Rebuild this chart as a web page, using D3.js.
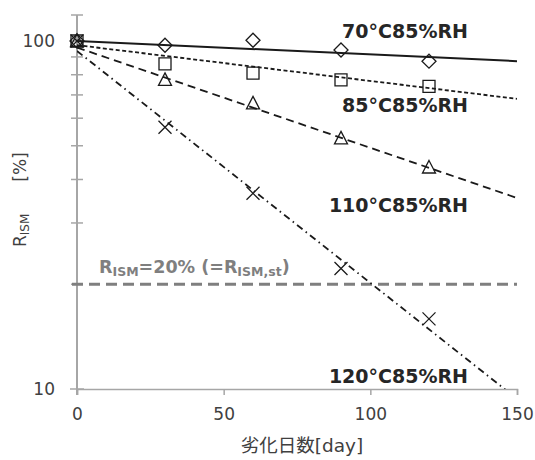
<!DOCTYPE html>
<html><head><meta charset="utf-8">
<script src="https://cdn.jsdelivr.net/npm/d3@7"></script>
<style>
html,body{margin:0;padding:0;background:#fff;}
text{font-family:"DejaVu Sans","Noto Sans CJK JP",sans-serif;}
</style></head>
<body>
<svg id="chart" width="535" height="460"></svg>
<script>
// ---- data ----
const days = [0, 30, 60, 90, 120];
const seriesNames = ["70°C85%RH", "85°C85%RH", "110°C85%RH", "120°C85%RH"];
const r70  = [100, 97.2, 100.5, 94.2, 87.5];
const r85  = [100, 85.9, 80.9, 77.3, 74.1];
const r110 = [100, 77.3, 66.2, 52.5, 43.3];
const r120 = [100, 56.5, 36.5, 22.2, 15.9];
// fitted lines: value at day 0 and at day 150
const fitDays = [0, 150];
const fit70  = [100, 87.5];
const fit85  = [97.3, 68.2];
const fit110 = [95.8, 35.4];
const fit120 = [93.6, 9.37];
const standardValue = 20;
const xTicks = [0, 50, 100, 150];
const yTicks = [10, 100];
const yMinorTicks = [20, 30, 40, 50, 60, 70, 80, 90];

const svg = d3.select("#chart");
const x = d3.scaleLinear().domain([0, 150]).range([77, 517]);
const y = d3.scaleLog().domain([10, 100]).range([389, 41]);

const axisColor = "#a6a6a6";
const textColor = "#404040";

svg.append("clipPath").attr("id","plotclip").append("rect")
  .attr("x", x(0)).attr("y", 10).attr("width", x(150)-x(0)).attr("height", y(10)-10);

// ---- axes ----
const gx = svg.append("g").attr("transform", `translate(0,${y(10)})`)
  .call(d3.axisBottom(x).tickValues(xTicks).tickSize(6).tickPadding(16).tickFormat(d3.format("d")));
gx.select(".domain").attr("stroke", axisColor).attr("stroke-width", 1.5);
gx.selectAll(".tick line").attr("stroke", axisColor).attr("stroke-width", 1.5);
gx.selectAll(".tick text").attr("fill", textColor).style("font-size", "17px").attr("dy", "0.5em");

const gy = svg.append("g").attr("transform", `translate(${x(0)},0)`);
gy.append("line").attr("x1",0).attr("x2",0).attr("y1", y(10)+6).attr("y2", y(100)-26)
  .attr("stroke", axisColor).attr("stroke-width", 2);
gy.append("line").attr("x1",-6).attr("x2",6).attr("y1", y(100)-26).attr("y2", y(100)-26)
  .attr("stroke", axisColor).attr("stroke-width", 1.5);
gy.selectAll(".minor").data(yMinorTicks).enter().append("line")
  .attr("x1",-6).attr("x2",6).attr("y1", d=>y(d)).attr("y2", d=>y(d))
  .attr("stroke", axisColor).attr("stroke-width", 1.5);
gy.selectAll(".major").data(yTicks).enter().append("line")
  .attr("x1",-7).attr("x2",7).attr("y1", d=>y(d)).attr("y2", d=>y(d))
  .attr("stroke", axisColor).attr("stroke-width", 1.5);
gy.selectAll(".ylab").data(yTicks).enter().append("text")
  .attr("x", -22).attr("y", d=>y(d)).attr("dy","0.35em").attr("text-anchor","end")
  .attr("fill", textColor).style("font-size","17px").text(d=>d);

// axis titles
const yt = svg.append("text").attr("transform","translate(26,247) rotate(-90)")
  .attr("fill", textColor).style("font-size","17px");
yt.append("tspan").text("R");
yt.append("tspan").attr("dy", 3).style("font-size","12px").text("ISM");
yt.append("tspan").attr("dy", -3).attr("dx", 32).text("[%]");

svg.append("text").attr("x", 302).attr("y", 452).attr("text-anchor","middle")
  .attr("fill", textColor).style("font-size","18.5px").text("劣化日数[day]");

// ---- standard line ----
svg.append("line").attr("x1", x(0)-5).attr("x2", x(150)).attr("y1", y(standardValue)).attr("y2", y(standardValue))
  .attr("stroke", "#7f7f7f").attr("stroke-width", 3).attr("stroke-dasharray", "11,6");
const st = svg.append("text").attr("x", 99).attr("y", 273).attr("fill","#7f7f7f")
  .style("font-size","17.5px").style("font-weight","bold");
st.append("tspan").text("R");
st.append("tspan").attr("dy",3).style("font-size","12.5px").text("ISM");
st.append("tspan").attr("dy",-3).text("=20% (=R");
st.append("tspan").attr("dy",3).style("font-size","12.5px").text("ISM,st");
st.append("tspan").attr("dy",-3).text(")");

// ---- fitted lines ----
const fits = [
  {vals: fit70, dash: null, w: 2},
  {vals: fit85, dash: "4,2.5", w: 1.8},
  {vals: fit110, dash: "8,5", w: 1.8},
  {vals: fit120, dash: "7,4,1.5,4", w: 1.8}
];
const line = d3.line().x(d=>x(d[0])).y(d=>y(d[1]));
fits.forEach(f=>{
  svg.append("path").attr("clip-path","url(#plotclip)")
    .attr("d", line(fitDays.map((d,i)=>[d, f.vals[i]])))
    .attr("fill","none").attr("stroke","#1a1a1a").attr("stroke-width", f.w)
    .attr("stroke-dasharray", f.dash);
});

// ---- markers ----
function drawMarkers(vals, type){
  const g = svg.append("g");
  vals.forEach((v,i)=>{
    const cx = x(days[i]), cy = y(v);
    let p;
    if(type==="diamond") p = `M${cx},${cy-7}L${cx+7},${cy}L${cx},${cy+7}L${cx-7},${cy}Z`;
    if(type==="square") p = `M${cx-6},${cy-6}h12v12h-12Z`;
    if(type==="triangle") p = `M${cx},${cy-7}L${cx+6.5},${cy+5.5}L${cx-6.5},${cy+5.5}Z`;
    if(type==="cross") p = `M${cx-6.5},${cy-6.5}L${cx+6.5},${cy+6.5}M${cx+6.5},${cy-6.5}L${cx-6.5},${cy+6.5}`;
    g.append("path").attr("d", p).attr("fill","none").attr("stroke","#1a1a1a").attr("stroke-width",1.3);
  });
}
drawMarkers(r70, "diamond");
drawMarkers(r85, "square");
drawMarkers(r110, "triangle");
drawMarkers(r120, "cross");

// ---- series labels ----
const labelY = [38, 112, 212, 383];
seriesNames.forEach((n,i)=>{
  svg.append("text").attr("x", 468).attr("y", labelY[i]).attr("text-anchor","end")
    .attr("fill","#262626").style("font-size","19px").style("font-weight","bold").text(n);
});
</script>
</body></html>
